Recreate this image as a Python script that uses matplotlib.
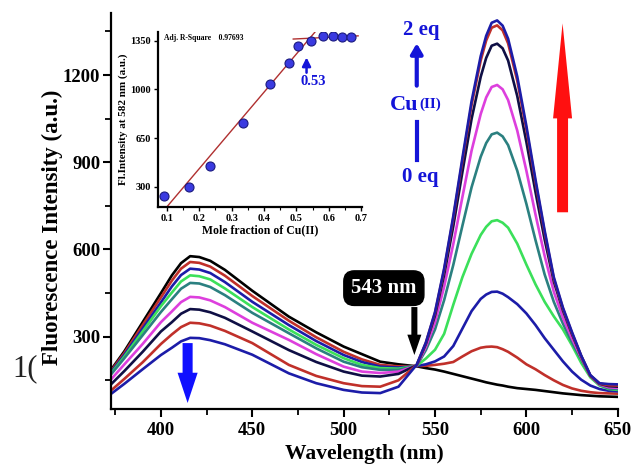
import matplotlib
matplotlib.use("Agg")
import matplotlib.pyplot as plt
from matplotlib.patches import FancyArrow
from matplotlib.ticker import MultipleLocator

plt.rcParams.update({
    "font.family": "serif",
    "font.serif": ["Liberation Serif", "DejaVu Serif"],
    "font.weight": "bold",
    "axes.labelweight": "bold",
    "axes.linewidth": 1.6,
})

# ── spectra ───────────────────────────────────────────────────────────
wavelength = [372, 380, 390, 400, 406, 411, 416, 421, 427, 435,
              450, 470, 485, 500, 510, 520, 530, 540,
              545, 550, 555, 560, 565, 570,
              575, 578, 581, 584, 587, 590,
              595, 600, 605, 610, 615, 620, 625, 630, 635, 640, 645, 650]

cu_0 = [180, 250, 350, 450, 511, 553, 577, 574, 561, 530,
        458, 369, 315, 266, 240, 214, 205, 198,
        192, 187, 180, 172, 164, 156,
        148, 143, 139, 135, 132, 128,
        123, 120, 117, 113, 109, 105, 102, 99, 97, 95, 94, 93]
cu_1 = [176, 244, 340, 435, 493, 534, 557, 554, 541, 510,
        440, 355, 298, 248, 222, 203, 198, 199,
        200, 203, 207, 213, 232, 250,
        262, 265, 266, 264, 257, 248,
        228, 205, 188, 168, 150, 134, 122, 114, 109, 106, 105, 104]
cu_2 = [172, 238, 328, 418, 473, 512, 534, 531, 519, 488,
        420, 340, 285, 237, 213, 197, 194, 199,
        205, 215, 232, 268, 328, 388,
        430, 445, 454, 455, 448, 436,
        412, 380, 340, 295, 255, 215, 180, 152, 132, 120, 114, 112]
cu_3 = [168, 232, 318, 405, 452, 490, 511, 508, 497, 466,
        402, 325, 272, 226, 203, 192, 190, 200,
        225, 255, 310, 410, 505, 585,
        650, 678, 697, 701, 692, 675,
        620, 548, 480, 420, 370, 325, 270, 210, 160, 132, 120, 117]
cu_4 = [165, 226, 305, 385, 429, 465, 485, 483, 471, 443,
        382, 312, 260, 214, 195, 186, 186, 200,
        254, 325, 426, 547, 682, 814,
        919, 966, 996, 1002, 989, 959,
        871, 757, 632, 514, 420, 345, 280, 222, 165, 135, 122, 120]
cu_5 = [148, 205, 275, 350, 387, 419, 437, 435, 425, 402,
        348, 289, 240, 197, 180, 175, 180, 201,
        265, 350, 472, 619, 781, 940,
        1066, 1123, 1159, 1166, 1151, 1114,
        1009, 871, 720, 578, 455, 365, 293, 228, 165, 136, 126, 124]
cu_6 = [132, 182, 248, 318, 350, 379, 395, 393, 384, 365,
        318, 254, 213, 180, 166, 163, 172, 202,
        275, 373, 513, 680, 867, 1049,
        1194, 1259, 1301, 1308, 1292, 1250,
        1128, 970, 797, 634, 490, 390, 308, 233, 166, 138, 130, 128]
cu_7 = [111, 155, 212, 275, 308, 333, 348, 346, 338, 320,
        278, 203, 165, 140, 130, 128, 150, 203,
        279, 382, 530, 708, 905, 1097,
        1250, 1319, 1363, 1371, 1354, 1309,
        1181, 1013, 831, 658, 500, 397, 312, 233, 166, 139, 133, 132]
cu_8 = [100, 138, 188, 237, 262, 284, 296, 295, 288, 274,
        238, 174, 140, 117, 108, 106, 128, 204,
        280, 385, 535, 715, 915, 1110,
        1265, 1335, 1380, 1388, 1370, 1325,
        1195, 1025, 840, 665, 505, 400, 315, 235, 168, 140, 137, 136]

spectra = [cu_0, cu_1, cu_2, cu_3, cu_4, cu_5, cu_6, cu_7, cu_8]
colors = ["#000000", "#c0302a", "#1c1ca8", "#3be05a", "#2b8080",
          "#dd3fdd", "#0f0f45", "#c0302a", "#1c1ca8"]

# ── inset: Job's plot ─────────────────────────────────────────────────
mole_fraction = [0.09, 0.168, 0.233, 0.334, 0.417, 0.478, 0.504, 0.544, 0.581, 0.613, 0.64, 0.667]
fl_582 = [233, 298, 449, 756, 1036, 1187, 1314, 1350, 1382, 1385, 1380, 1376]
fit_rise_x = [0.1, 0.558]
fit_rise_y = [154, 1415]
fit_flat_x = [0.49, 0.69]
fit_flat_y = [1362, 1385]

fig = plt.figure(figsize=(6.31, 4.70), dpi=100)
ax = fig.add_axes([0.1754, 0.129, 0.8036, 0.843])

for y, c in zip(spectra, colors):
    ax.plot(wavelength, y, color=c, linewidth=1.9, solid_joinstyle="round")

ax.set_xlim(372.5, 650)
ax.set_ylim(50, 1413)
ax.spines["top"].set_visible(False)
ax.spines["right"].set_visible(False)
ax.xaxis.set_major_locator(MultipleLocator(50))
ax.xaxis.set_minor_locator(MultipleLocator(25))
ax.yaxis.set_major_locator(MultipleLocator(300))
ax.yaxis.set_minor_locator(MultipleLocator(150))
ax.tick_params(which="major", length=6, width=1.5, labelsize=13.5, pad=3)
ax.tick_params(axis="y", which="major", pad=1.5)
ax.tick_params(which="minor", length=4, width=1.3)
ax.set_xlabel("Wavelength (nm)", fontsize=15.5, labelpad=4)
ax.set_ylabel("Fluorescence Intensity (a.u.)", fontsize=16.5,
              bbox=dict(fc="white", ec="none", pad=1))
ax.yaxis.set_label_coords(-0.094, 0.46)

# arrows and labels
ax.add_patch(FancyArrow(619.8, 728, 0, 650, width=6, head_width=10.4, head_length=327,
                        length_includes_head=True, color="#ff1010", linewidth=0))
ax.add_patch(FancyArrow(414.6, 278, 0, -206, width=5.5, head_width=11, head_length=104,
                        length_includes_head=True, color="#1010ff", linewidth=0))
ax.add_patch(FancyArrow(538.7, 402, 0, -165, width=3.3, head_width=7.7, head_length=70,
                        length_includes_head=True, color="black", linewidth=0))
ax.text(522, 467, "543 nm", color="white", fontsize=15, ha="center", va="center",
        bbox=dict(boxstyle="round,pad=0.35,rounding_size=0.5", fc="black", ec="black"))

blue = "#1414d8"
ax.text(542.4, 1354, "2 eq", color=blue, fontsize=15, ha="center", va="center")
ax.annotate("", xy=(540, 1319), xytext=(540, 1154),
            arrowprops=dict(arrowstyle="-|>,head_width=0.35,head_length=0.6", color=blue, lw=3))
ax.text(533, 1096, "Cu", color=blue, fontsize=16, ha="center", va="center")
ax.text(547.5, 1100, "(II)", color=blue, fontsize=11, ha="center", va="center")
ax.plot([540, 540], [1038, 908], color=blue, lw=3)
ax.text(541.8, 849, "0 eq", color=blue, fontsize=15, ha="center", va="center")

fig.text(0.02, 0.215, "1(", fontsize=22, fontweight="normal", color="#222222",
         ha="left", va="center", zorder=0)

# inset
ins = fig.add_axes([0.2504, 0.5596, 0.3233, 0.373])
ins.plot(fit_rise_x, fit_rise_y, color="#b03030", lw=1.0)
ins.plot(fit_flat_x, fit_flat_y, color="#b03030", lw=1.0)
ins.plot(mole_fraction, fl_582, "o", ms=6.5, mfc="#3a3ae0", mec="#1a1a80", mew=0.8)
ins.set_xlim(0.073, 0.702)
ins.set_ylim(154, 1415)
ins.spines["top"].set_visible(False)
ins.spines["right"].set_visible(False)
ins.xaxis.set_major_locator(MultipleLocator(0.1))
ins.xaxis.set_minor_locator(MultipleLocator(0.05))
ins.set_yticks([300, 650, 1000, 1350])
ins.tick_params(which="major", length=3, width=1, labelsize=7.5, pad=2)
ins.tick_params(which="minor", length=2, width=0.8)
ins.set_xlabel("Mole fraction of Cu(II)", fontsize=8.5, labelpad=1)
ins.set_ylabel("Fl.Intensity at 582 nm (a.u.)", fontsize=8, labelpad=2)
ins.text(0.09, 1370, "Adj. R-Square    0.97693", fontsize=5.5, va="center")
ins.annotate("", xy=(0.531, 1250), xytext=(0.531, 1100),
             arrowprops=dict(arrowstyle="-|>,head_width=0.25,head_length=0.5", color=blue, lw=1.8))
ins.text(0.553, 1055, "0.53", color=blue, fontsize=10.5, ha="center", va="center")

fig.savefig("out.png", dpi=100)
